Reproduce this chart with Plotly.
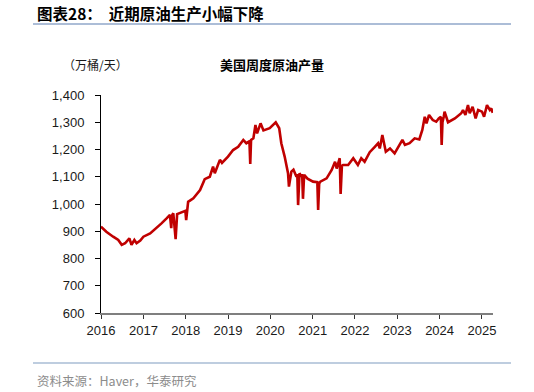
import plotly.graph_objects as go

dates = [
    "2016-01-01", "2016-02-16", "2016-04-15", "2016-05-29", "2016-06-28", "2016-07-27",
    "2016-09-02", "2016-09-20", "2016-10-15", "2016-11-03", "2016-12-05", "2017-01-01",
    "2017-02-28", "2017-04-23", "2017-06-06", "2017-07-20", "2017-08-18", "2017-08-29",
    "2017-09-05", "2017-09-16", "2017-10-06", "2017-10-19", "2017-12-08", "2017-12-29",
    "2018-01-05", "2018-01-22", "2018-03-08", "2018-05-05", "2018-06-14", "2018-07-28",
    "2018-08-25", "2018-09-09", "2018-10-23", "2018-11-10", "2019-01-01", "2019-02-14",
    "2019-03-30", "2019-05-13", "2019-06-08", "2019-07-05", "2019-07-12", "2019-07-19",
    "2019-08-08", "2019-08-26", "2019-09-09", "2019-10-09", "2019-11-03", "2019-12-27",
    "2020-02-17", "2020-03-18", "2020-04-05", "2020-05-04", "2020-06-02", "2020-06-10",
    "2020-07-01", "2020-07-19", "2020-08-14", "2020-08-21", "2020-08-28", "2020-09-09",
    "2020-09-25", "2020-10-02", "2020-10-09", "2020-10-19", "2020-11-17", "2021-01-04",
    "2021-02-10", "2021-02-17", "2021-02-26", "2021-03-08", "2021-05-01", "2021-06-14",
    "2021-07-13", "2021-07-27", "2021-08-22", "2021-08-30", "2021-09-10", "2021-09-21",
    "2021-11-03", "2021-12-17", "2022-01-26", "2022-02-24", "2022-03-25", "2022-05-08",
    "2022-06-21", "2022-07-19", "2022-08-03", "2022-08-25", "2022-09-24", "2022-10-30",
    "2022-12-09", "2023-01-08", "2023-02-14", "2023-03-08", "2023-04-17", "2023-05-31",
    "2023-07-10", "2023-08-05", "2023-08-26", "2023-09-10", "2023-10-02", "2023-11-03",
    "2023-12-03", "2023-12-25", "2024-01-12", "2024-01-19", "2024-01-26", "2024-02-06",
    "2024-02-13", "2024-03-14", "2024-05-12", "2024-07-06", "2024-07-21", "2024-08-11",
    "2024-09-02", "2024-09-17", "2024-10-12", "2024-11-07", "2024-11-29", "2025-01-01",
    "2025-01-19", "2025-02-13", "2025-03-10", "2025-03-22", "2025-04-04",
]
production = [
    917, 898, 880, 868, 850, 856,
    874, 850, 868, 856, 866, 880,
    892, 911, 929, 947, 960, 911,
    958, 966, 871, 963, 972, 975,
    941, 1008, 1021, 1051, 1091, 1100,
    1137, 1113, 1162, 1151, 1174, 1198,
    1210, 1235, 1223, 1230, 1147, 1235,
    1241, 1290, 1259, 1296, 1270, 1278,
    1300, 1278, 1223, 1174, 1113, 1064,
    1119, 1126, 1100, 1110, 996, 1113,
    1100, 1110, 1019, 1107, 1093, 1082,
    1080, 978, 1075, 1082, 1094, 1125,
    1155, 1130, 1168, 1037, 1140, 1143,
    1143, 1168, 1143, 1168, 1155, 1190,
    1210, 1223, 1204, 1253, 1192, 1204,
    1186, 1210, 1235, 1217, 1223, 1241,
    1237, 1272, 1320, 1296, 1327, 1308,
    1302, 1314, 1320, 1217, 1300, 1320,
    1339, 1300, 1314, 1333, 1345, 1327,
    1363, 1333, 1357, 1314, 1345, 1339,
    1320, 1363, 1345, 1351, 1335,
]

y_ticks = [600, 700, 800, 900, 1000, 1100, 1200, 1300, 1400]
x_ticks = ["2016-01-01", "2017-01-01", "2018-01-01", "2019-01-01", "2020-01-01",
           "2021-01-01", "2022-01-01", "2023-01-01", "2024-01-01", "2025-01-01"]
x_tick_labels = ["2016", "2017", "2018", "2019", "2020", "2021", "2022", "2023", "2024", "2025"]

chart_title = "图表28：  近期原油生产小幅下降"
series_title = "美国周度原油产量"
unit_label = "（万桶/天）"
source_label = "资料来源：Haver，华泰研究"

W, H = 534, 392
L, R, T, B = 101, 41, 95, 79
pw, ph = W - L - R, H - T - B

def px(x):
    return (x - L) / pw

def py(y):
    return (H - B - y) / ph

cjk = "Noto Sans CJK SC"
num_font = "Liberation Sans, Arial"

fig = go.Figure()
fig.add_trace(go.Scatter(
    x=dates, y=production, mode="lines",
    line=dict(color="#c00000", width=2.6),
    showlegend=False, hoverinfo="skip",
))

fig.update_layout(
    width=W, height=H,
    margin=dict(l=L, r=R, t=T, b=B),
    paper_bgcolor="white", plot_bgcolor="white",
    xaxis=dict(
        type="date",
        range=["2016-01-01", "2025-04-06"],
        tickvals=x_ticks, ticktext=x_tick_labels,
        showgrid=False, zeroline=False,
        showline=True, linecolor="#7f7f7f", linewidth=2,
        ticks="outside", ticklen=4, tickcolor="#333333", tickwidth=1,
        tickfont=dict(family=num_font, size=13, color="#1a1a1a"),
    ),
    yaxis=dict(
        range=[600, 1400],
        tickvals=y_ticks, tickformat=",d",
        showgrid=False, zeroline=False,
        showline=True, linecolor="#000000", linewidth=1,
        ticks="outside", ticklen=5, tickcolor="#000000", tickwidth=1,
        ticklabelstandoff=8,
        tickfont=dict(family=num_font, size=13, color="#1a1a1a"),
    ),
    annotations=[
        dict(text="<b>" + chart_title + "</b>", xref="paper", yref="paper",
             x=px(35), y=py(13), xanchor="left", yanchor="middle", showarrow=False,
             font=dict(family=cjk, size=15.5, color="#000000")),
        dict(text=unit_label, xref="paper", yref="paper",
             x=px(61), y=py(65), xanchor="left", yanchor="middle", showarrow=False,
             font=dict(family=cjk, size=12, color="#1a1a1a")),
        dict(text="<b>" + series_title + "</b>", xref="paper", yref="paper",
             x=px(272), y=py(65), xanchor="center", yanchor="middle", showarrow=False,
             font=dict(family=cjk, size=13, color="#000000")),
        dict(text=source_label, xref="paper", yref="paper",
             x=px(35), y=py(380), xanchor="left", yanchor="middle", showarrow=False,
             font=dict(family=cjk, size=12.5, color="#8c8c8c")),
    ],
    shapes=[
        dict(type="line", xref="paper", yref="paper", x0=px(33), x1=px(511),
             y0=py(24), y1=py(24), line=dict(color="#5a7db0", width=1.2)),
        dict(type="line", xref="paper", yref="paper", x0=px(33), x1=px(511),
             y0=py(363), y1=py(363), line=dict(color="#a8bcd4", width=1.5)),
    ],
)

fig.write_html("out.html", config={"displayModeBar": False},
               post_script="document.body.style.margin='0px';")
